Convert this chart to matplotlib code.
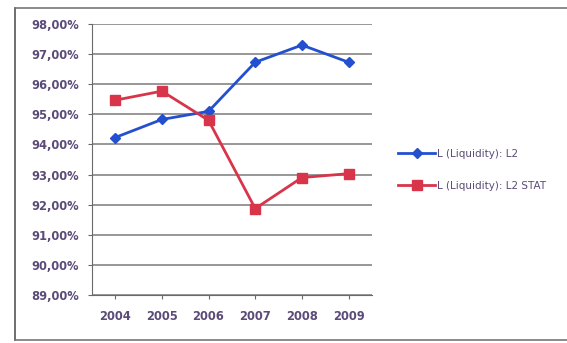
import matplotlib
matplotlib.use("Agg")
import matplotlib.pyplot as plt
from matplotlib.lines import Line2D
from matplotlib.ticker import FuncFormatter

years = ["2004", "2005", "2006", "2007", "2008", "2009"]
l2 = [94.23, 94.83, 95.10, 96.73, 97.30, 96.73]
l2_stat = [95.47, 95.77, 94.80, 91.87, 92.90, 93.03]
series_names = ["L (Liquidity): L2", "L (Liquidity): L2 STAT"]

text_color = "#5b4b78"
blue = "#2450d0"
red = "#d8344a"

fig = plt.figure(figsize=(5.67, 3.43), dpi=100)
ax = fig.add_axes([0.162, 0.140, 0.494, 0.790])

x = list(range(len(years)))
ax.plot(x, l2, color=blue, lw=2, marker="D", ms=5.5, label=series_names[0])
ax.plot(x, l2_stat, color=red, lw=2, marker="s", ms=7.5, label=series_names[1])

ax.set_xlim(-0.5, len(years) - 0.5)
ax.set_ylim(89, 98)
ax.set_yticks(range(89, 99))
ax.yaxis.set_major_formatter(FuncFormatter(lambda v, p: f"{v:.2f}%".replace(".", ",")))
ax.set_xticks(x)
ax.set_xticklabels(years)
ax.grid(axis="y", color="#7a7a7a", lw=1.1)
ax.set_axisbelow(True)
for s in ["top", "right"]:
    ax.spines[s].set_visible(False)
for s in ["left", "bottom"]:
    ax.spines[s].set_color("#6a6a6a")
ax.tick_params(axis="both", colors="#6a6a6a", labelcolor=text_color, labelsize=8.3, length=3)
ax.tick_params(axis="y", pad=6)
ax.tick_params(axis="x", pad=8)
for lab in ax.get_yticklabels() + ax.get_xticklabels():
    lab.set_fontweight("bold")

leg = fig.legend(loc="center left", bbox_to_anchor=(0.685, 0.505), frameon=False,
                 fontsize=7.5, handlelength=3.6, labelspacing=2.1, handletextpad=0.2,
                 labelcolor=text_color)

# outer chart frame
fig.add_artist(Line2D([15/567, 15/567], [1 - 340/343, 1 - 8/343], color="#555555", lw=1.2))
fig.add_artist(Line2D([15/567, 1.0], [1 - 8/343, 1 - 8/343], color="#777777", lw=1.2))
fig.add_artist(Line2D([15/567, 1.0], [1 - 340/343, 1 - 340/343], color="#777777", lw=1.2))

fig.savefig("out.png", dpi=100)
